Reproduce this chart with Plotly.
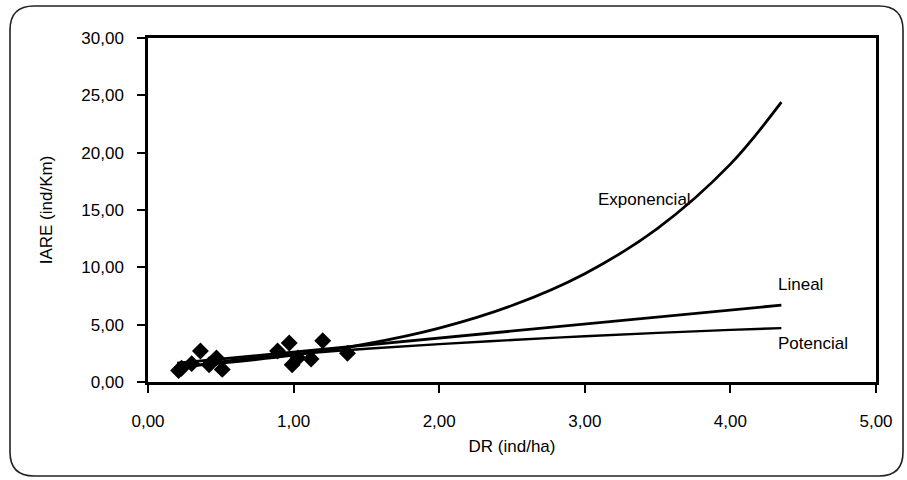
import plotly.graph_objects as go

# observed points (DR vs IARE)
dr = [0.21, 0.23, 0.30, 0.36, 0.42, 0.47, 0.51, 0.89, 0.97, 0.99, 1.03, 1.12, 1.20, 1.37]
iare = [1.0, 1.2, 1.6, 2.7, 1.5, 2.1, 1.1, 2.7, 3.4, 1.5, 2.1, 2.0, 3.6, 2.5]

# trend lines
exp_x = [0.2, 0.5, 1.0, 1.5, 2.0, 2.5, 3.0, 3.5, 4.0, 4.35]
exp_y = [1.33, 1.65, 2.34, 3.32, 4.70, 6.67, 9.45, 13.4, 19.0, 24.4]

lin_x = [0.2, 4.35]
lin_y = [1.64, 6.7]

pot_x = [0.2, 0.5, 1.0, 1.5, 2.0, 2.5, 3.0, 3.5, 4.0, 4.35]
pot_y = [1.17, 1.77, 2.42, 2.90, 3.30, 3.66, 3.99, 4.28, 4.55, 4.70]

labels = ["Exponencial", "Lineal", "Potencial"]
label_x = [3.41, 4.48, 4.57]
label_y = [15.9, 8.5, 3.4]

FONT = "Liberation Sans, Arial, sans-serif"

fig = go.Figure()
fig.add_trace(go.Scatter(x=exp_x, y=exp_y, mode="lines", line=dict(color="black", width=2.8, shape="spline")))
fig.add_trace(go.Scatter(x=lin_x, y=lin_y, mode="lines", line=dict(color="black", width=2.8)))
fig.add_trace(go.Scatter(x=pot_x, y=pot_y, mode="lines", line=dict(color="black", width=2.4, shape="spline")))
fig.add_trace(go.Scatter(x=dr, y=iare, mode="markers",
                         marker=dict(symbol="diamond", size=13, color="black")))

for t, x, y in zip(labels, label_x, label_y):
    fig.add_annotation(x=x, y=y, text=t, showarrow=False,
                       font=dict(family=FONT, size=17, color="black"))

# plot area in pixels, used for the rounded outer frame
L, R, T, B = 148, 876, 38, 382
W, H = 907, 480


def px(x, y):
    return (x - L) / (R - L), (B - y) / (B - T)


def rounded_rect(x0, y0, x1, y1, r):
    def p(x, y):
        a, b = px(x, y)
        return f"{a:.5f},{b:.5f}"
    pts = [
        "M " + p(x0 + r, y0),
        "L " + p(x1 - r, y0),
        "Q " + p(x1, y0) + " " + p(x1, y0 + r),
        "L " + p(x1, y1 - r),
        "Q " + p(x1, y1) + " " + p(x1 - r, y1),
        "L " + p(x0 + r, y1),
        "Q " + p(x0, y1) + " " + p(x0, y1 - r),
        "L " + p(x0, y0 + r),
        "Q " + p(x0, y0) + " " + p(x0 + r, y0),
        "Z",
    ]
    return " ".join(pts)


fig.add_shape(type="path", xref="paper", yref="paper",
              path=rounded_rect(10, 6, 903, 476, 24),
              line=dict(color="#222", width=1.6), layer="below")

axis_common = dict(showline=True, linecolor="black", linewidth=2.5, mirror=True,
                   ticks="outside", ticklen=8, tickwidth=2, tickcolor="black",
                   showgrid=False, zeroline=False, tickformat=".2f",
                   tickfont=dict(family=FONT, size=17, color="black"))

fig.update_xaxes(range=[0, 5], dtick=1, ticklabelstandoff=14,
                 title=dict(text="DR (ind/ha)", font=dict(family=FONT, size=17, color="black"),
                            standoff=10),
                 **axis_common)
fig.update_yaxes(range=[0, 30], dtick=5, ticklabelstandoff=10,
                 title=dict(text="IARE (ind/Km)", font=dict(family=FONT, size=17, color="black"),
                            standoff=25),
                 **axis_common)

fig.update_layout(
    width=W, height=H,
    margin=dict(l=L, r=W - R, t=T, b=H - B),
    paper_bgcolor="white", plot_bgcolor="white",
    showlegend=False,
    separators=",.",
    font=dict(family=FONT, color="black"),
)

fig.write_html("out.html", config={"displayModeBar": False},
               post_script="document.body.style.margin='0';")
